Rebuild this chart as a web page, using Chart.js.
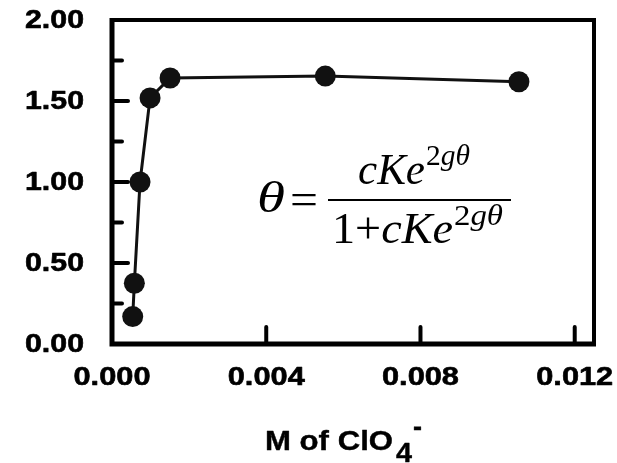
<!DOCTYPE html>
<html>
<head>
<meta charset="utf-8">
<script src="https://cdn.jsdelivr.net/npm/chart.js@4.4.1/dist/chart.umd.min.js"></script>
<style>
html,body{margin:0;padding:0;background:#fff;}
canvas{display:block;}
</style>
</head>
<body>
<canvas id="c" width="617" height="463"></canvas>
<script>
// ---- data ----
const xValues = [0.000537, 0.00058, 0.000727, 0.000987, 0.001506, 0.005532, 0.010553];
const yValues = [0.169, 0.375, 1.00, 1.519, 1.642, 1.654, 1.619];
const xTicks = [0, 0.004, 0.008, 0.012];
const xTickLabels = ['0.000', '0.004', '0.008', '0.012'];
const yTicks = [0, 0.5, 1.0, 1.5, 2.0];
const yTickLabels = ['0.00', '0.50', '1.00', '1.50', '2.00'];
const yMinorTicks = [0.25, 0.75, 1.25, 1.75];
const xTitle = 'M of ClO';
const xTitleSub = '4';
const xTitleSup = '-';

const INK = '#111111';

function fitText(ctx, text, x, y, align, font, targetW, heavy) {
  ctx.save();
  ctx.font = font;
  const nat = ctx.measureText(text).width;
  const sx = targetW ? targetW / nat : 1;
  const w = nat * sx;
  let left = x;
  if (align === 'center') left = x - w / 2;
  else if (align === 'right') left = x - w;
  ctx.translate(left, y);
  ctx.scale(sx, 1);
  ctx.textAlign = 'left';
  ctx.fillText(text, 0, 0);
  if (heavy) {
    ctx.lineWidth = heavy;
    ctx.lineJoin = 'round';
    ctx.strokeText(text, 0, 0);
  }
  ctx.restore();
  return w;
}

function drawRuns(ctx, runs, x0, baseline, targetWidth) {
  ctx.save();
  let natural = 0;
  runs.forEach(r => { ctx.font = r.font; natural += ctx.measureText(r.text).width; });
  const sx = targetWidth / natural;
  ctx.translate(x0, baseline);
  ctx.scale(sx, 1);
  let x = 0;
  ctx.textAlign = 'left';
  ctx.textBaseline = 'alphabetic';
  runs.forEach(r => {
    ctx.font = r.font;
    ctx.fillText(r.text, x, r.dy || 0);
    x += ctx.measureText(r.text).width;
  });
  ctx.restore();
}

const decor = {
  id: 'decor',
  afterDatasetsDraw(chart) {
    const ctx = chart.ctx;
    const xs = chart.scales.x, ys = chart.scales.y;
    const L = xs.getPixelForValue(0), R = xs.getPixelForValue(xs.max);
    const B = ys.getPixelForValue(0), T = ys.getPixelForValue(ys.max);
    ctx.save();
    ctx.strokeStyle = '#000';
    ctx.fillStyle = '#000';
    ctx.lineCap = 'butt';
    // frame
    ctx.lineWidth = 4;
    ctx.beginPath();
    ctx.moveTo(L, T); ctx.lineTo(R, T); ctx.lineTo(R, B);
    ctx.stroke();
    ctx.lineWidth = 5;
    ctx.beginPath();
    ctx.moveTo(L, T - 2); ctx.lineTo(L, B); ctx.lineTo(R + 2, B);
    ctx.stroke();
    // inside ticks
    ctx.lineWidth = 4;
    ctx.lineCap = 'round';
    yTicks.forEach(v => {
      if (v === 0) return;
      const p = ys.getPixelForValue(v);
      ctx.beginPath(); ctx.moveTo(L, p); ctx.lineTo(L + 16, p); ctx.stroke();
    });
    yMinorTicks.forEach(v => {
      const p = ys.getPixelForValue(v);
      ctx.beginPath(); ctx.moveTo(L, p); ctx.lineTo(L + 10, p); ctx.stroke();
    });
    xTicks.forEach(v => {
      if (v === 0) return;
      const p = xs.getPixelForValue(v);
      ctx.beginPath(); ctx.moveTo(p, B); ctx.lineTo(p, B - 17); ctx.stroke();
    });
    // tick labels
    const tf = 'bold 26px "Liberation Sans", Arial, sans-serif';
    ctx.textBaseline = 'middle';
    yTicks.forEach((v, i) => {
      fitText(ctx, yTickLabels[i], 84, ys.getPixelForValue(v) + 1, 'right', tf, 59, 0.6);
    });
    xTicks.forEach((v, i) => {
      fitText(ctx, xTickLabels[i], xs.getPixelForValue(v), 378, 'center', tf, 77, 0.6);
    });
    // axis title
    ctx.textBaseline = 'alphabetic';
    const ttf = 'bold 27px "Liberation Sans", Arial, sans-serif';
    let w = fitText(ctx, xTitle, 265, 450, 'left', ttf, 128, 0.4);
    fitText(ctx, xTitleSub, 265 + w + 3, 462, 'left', ttf, 16, 0.4);
    fitText(ctx, xTitleSup, 265 + w + 20, 436, 'left', ttf, 9, 0.4);
    // formula
    const serif = '"Liberation Serif", "Times New Roman", serif';
    const mainI = 'italic 44px ' + serif;
    const mainR = '44px ' + serif;
    const supI = 'italic 30px ' + serif;
    const supR = '30px ' + serif;
    drawRuns(ctx, [{text: '\u03B8', font: mainI}], 257, 212, 28);
    drawRuns(ctx, [{text: '=', font: mainR}], 290, 214, 28);
    ctx.fillRect(328, 199, 183, 2);
    drawRuns(ctx, [{text: 'cKe', font: mainI}], 358, 184, 67);
    drawRuns(ctx, [{text: '2', font: supR}, {text: 'g\u03B8', font: supI}], 426, 165, 44);
    drawRuns(ctx, [{text: '1+', font: mainR}, {text: 'cKe', font: mainI}], 332, 243, 121);
    drawRuns(ctx, [{text: '2', font: supR}, {text: 'g\u03B8', font: supI}], 454, 225, 49);
    ctx.restore();
  }
};

new Chart(document.getElementById('c'), {
  type: 'scatter',
  data: {
    datasets: [{
      data: xValues.map((x, i) => ({x: x, y: yValues[i]})),
      showLine: true,
      borderColor: INK,
      borderWidth: 3,
      pointRadius: 10.5,
      pointBackgroundColor: INK,
      pointBorderColor: INK,
      pointBorderWidth: 0,
      tension: 0
    }]
  },
  options: {
    responsive: false,
    animation: false,
    layout: {padding: {left: 112, right: 23, top: 20, bottom: 119}},
    plugins: {legend: {display: false}, tooltip: {enabled: false}},
    scales: {
      x: {type: 'linear', min: 0, max: 0.0125, display: false},
      y: {type: 'linear', min: 0, max: 2.0, display: false}
    }
  },
  plugins: [decor]
});
</script>
</body>
</html>
